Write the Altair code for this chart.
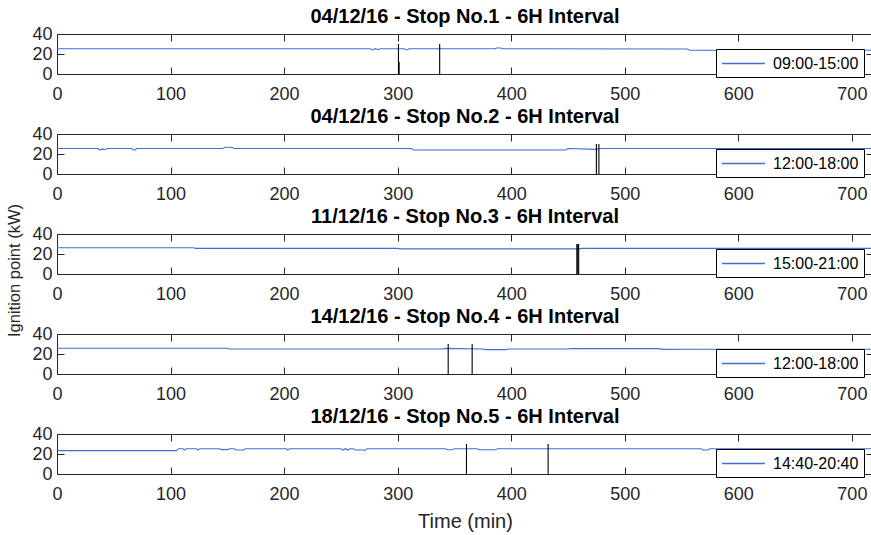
import altair as alt
import pandas as pd

FONT = "Liberation Sans"
BLUE = "#3f6fd0"
AX = "#262626"

titles = [
    "04/12/16 - Stop No.1 - 6H Interval",
    "04/12/16 - Stop No.2 - 6H Interval",
    "11/12/16 - Stop No.3 - 6H Interval",
    "14/12/16 - Stop No.4 - 6H Interval",
    "18/12/16 - Stop No.5 - 6H Interval",
]
ranges = ["09:00-15:00", "12:00-18:00", "15:00-21:00", "12:00-18:00", "14:40-20:40"]

x_ticks = [0, 100, 200, 300, 400, 500, 600, 700]
y_ticks = [0, 20, 40]
x_domain = [0, 718.6]
y_domain = [0, 40]

# ignition-point series (time in min, power in kW)
t1 = [0, 276, 277, 279, 280, 283, 285, 306, 307, 309, 310, 386, 387, 391, 392, 555, 557, 718]
v1 = [25.3, 25.3, 24.3, 24.3, 25.3, 24.5, 25.3, 25.3, 24.2, 24.2, 25.3, 25.3, 26.0, 26.0, 25.3, 25.0, 23.8, 23.8]

t2 = [0, 36, 37, 39, 40, 41, 42, 44, 66, 67, 69, 70, 146, 148, 154, 156, 312, 314, 448, 450, 476, 477, 718]
v2 = [25.5, 25.5, 24.3, 24.3, 25.5, 24.3, 24.3, 25.5, 25.5, 24.0, 24.0, 25.5, 25.5, 26.8, 26.8, 25.5, 25.5, 24.0, 24.0, 25.5, 24.6, 25.5, 25.5]

t3 = [0, 120, 122, 300, 302, 460, 462, 718]
v3 = [26.2, 26.2, 25.6, 25.6, 25.1, 25.1, 25.6, 25.6]

t4 = [0, 150, 152, 340, 342, 375, 378, 395, 398, 450, 452, 530, 533, 560, 718]
v4 = [25.8, 25.8, 25.0, 25.0, 25.6, 25.0, 24.4, 24.4, 25.0, 25.0, 25.4, 25.4, 24.6, 24.8, 24.8]

t5 = [0, 105, 107, 111, 112, 114, 123, 124, 126, 143, 145, 150, 152, 156, 158, 164, 166, 202, 203, 205,
      250, 252, 254, 256, 258, 261, 263, 270, 271, 273, 342, 344, 348, 350, 356, 370, 372, 386, 388,
      567, 569, 573, 575, 718]
v5 = [23.4, 23.4, 25.3, 25.3, 24.0, 25.3, 25.3, 24.0, 25.3, 25.3, 24.4, 24.4, 25.3, 25.3, 24.0, 24.0, 25.3, 25.3, 24.0, 25.3,
      25.3, 24.0, 25.3, 24.0, 25.3, 25.3, 24.0, 24.0, 23.6, 25.3, 25.3, 24.3, 24.3, 25.3, 25.3, 25.3, 24.3, 24.3, 25.3,
      25.3, 24.0, 24.0, 25.3, 25.3]

# stop events: time (min) and marker top (kW)
s1_t = [300.7, 301.3, 337.0]
s1_top = [30, 12, 30]
s2_t = [475.0, 477.2]
s2_top = [30, 30]
s3_t = [457.8, 458.6, 459.4]
s3_top = [30, 30, 30]
s4_t = [344.5, 365.6]
s4_top = [30, 30]
s5_t = [360.6, 432.5]
s5_top = [30, 30]

series = [(t1, v1), (t2, v2), (t3, v3), (t4, v4), (t5, v5)]
stops = [(s1_t, s1_top), (s2_t, s2_top), (s3_t, s3_top), (s4_t, s4_top), (s5_t, s5_top)]

W, H = 816, 40
TITLE_OFFSETS = [-18, -18, -39.5, -18, -18]


def panel(i):
    times, values = series[i]
    st, stop_top = stops[i]
    line_df = pd.DataFrame({"t": times, "v": values, "period": ranges[i]})
    stop_df = pd.DataFrame({"t": st, "base": [0] * len(st), "top": stop_top})

    x_kwargs = dict(
        values=x_ticks, tickSize=7, offset=-7, domain=False, grid=False,
        labelPadding=11, labelFontSize=18, labelFont=FONT, labelColor=AX, tickColor=AX,
        labelFlush=False,
    )
    if i == 4:
        x_axis = alt.Axis(title="Time (min)", titleFontSize=20, titleFont=FONT,
                          titleFontWeight="normal", titleColor=AX, titlePadding=8, **x_kwargs)
    else:
        x_axis = alt.Axis(title=None, **x_kwargs)

    y_kwargs = dict(
        values=y_ticks, tickSize=7, offset=-7, domain=False, grid=False,
        labelPadding=5, labelFontSize=18, labelFont=FONT, labelColor=AX, tickColor=AX,
        labelFlush=False,
    )
    if i == 2:
        y_axis = alt.Axis(title="Ignition point (kW)", titleFontSize=16.5, titleFont=FONT,
                          titleFontWeight="normal", titleColor=AX, titleAngle=270,
                          titleX=-50, titleY=36, titleAlign="center", titleBaseline="middle",
                          **y_kwargs)
    else:
        y_axis = alt.Axis(title=None, **y_kwargs)

    top_axis = alt.Axis(orient="top", values=x_ticks, tickSize=7, offset=-7, labels=False,
                        domain=False, grid=False, title=None, tickColor=AX)
    right_axis = alt.Axis(orient="right", values=y_ticks, tickSize=7, offset=-7, labels=False,
                          domain=False, grid=False, title=None, tickColor=AX)

    line = alt.Chart(line_df).mark_line(strokeWidth=1.1, clip=True).encode(
        x=alt.X("t:Q", scale=alt.Scale(domain=x_domain, nice=False, zero=False), axis=x_axis),
        y=alt.Y("v:Q", scale=alt.Scale(domain=y_domain, nice=False), axis=y_axis),
        color=alt.Color(
            "period:N",
            scale=alt.Scale(domain=[ranges[i]], range=[BLUE]),
            legend=alt.Legend(
                title=None, orient="none", legendX=659, legendY=15,
                symbolType="M-1,0L4.06,0", symbolSize=289, symbolStrokeWidth=1.5,
                labelFontSize=16, labelFont=FONT, labelColor="black", labelOffset=33,
                strokeColor="black", fillColor="white", padding=5,
            ),
        ),
    )
    rules = alt.Chart(stop_df).mark_rule(color="black", strokeWidth=1.1).encode(
        x=alt.X("t:Q", axis=top_axis),
        y=alt.Y("base:Q", axis=right_axis),
        y2="top:Q",
    )
    return alt.layer(line, rules).resolve_axis(x="independent", y="independent").properties(
        width=W, height=H,
        title=alt.TitleParams(text=titles[i], fontSize=20, fontWeight="bold", font=FONT,
                              offset=TITLE_OFFSETS[i], baseline="alphabetic", anchor="middle",
                              color="black"),
    )


chart = alt.vconcat(*[panel(i) for i in range(5)], spacing=60, bounds="flush").resolve_scale(
    color="independent"
).resolve_legend(color="independent").properties(
    padding={"left": 5, "top": 6, "right": -3, "bottom": 2},
    background="white",
).configure_view(stroke=AX, strokeWidth=1).configure_axis(grid=False)

chart.save("out.html", embed_options={"renderer": "svg", "actions": False})
